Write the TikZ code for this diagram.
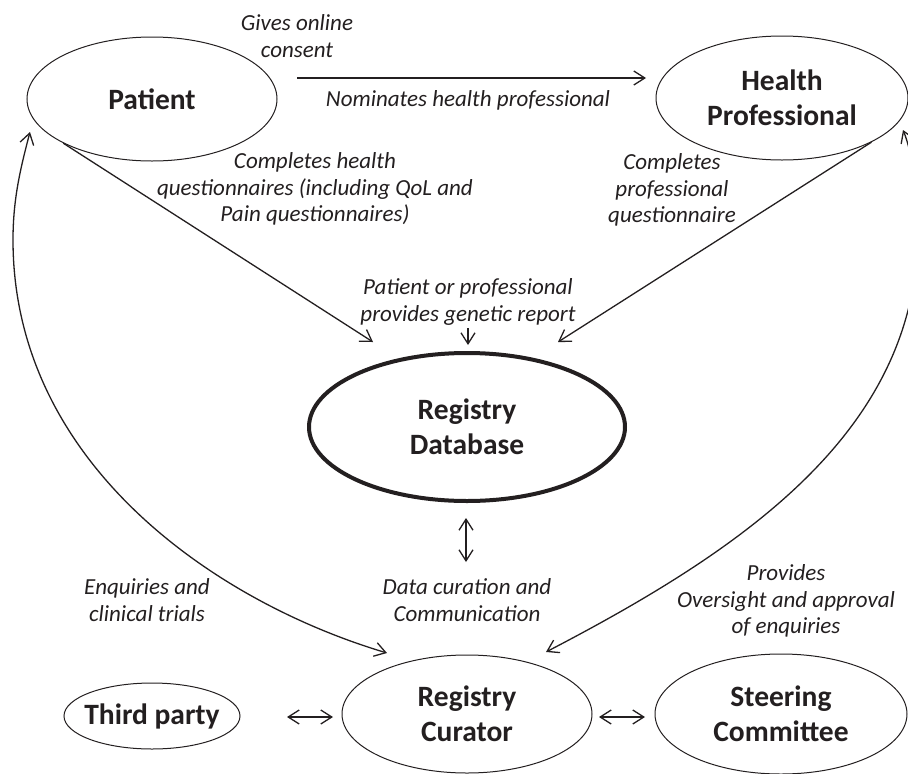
\documentclass[tikz,border=0pt]{standalone}
\usepackage{fontspec}
\setmainfont{Carlito}
\usetikzlibrary{shapes.geometric,arrows.meta}
\definecolor{ink}{HTML}{231F20}
\begin{document}
\begin{tikzpicture}[x=1pt,y=-1pt,
  ent/.style={ellipse, draw=ink, line width=1pt, inner sep=0pt, text=ink,
    font=\fontsize{29.5}{35}\selectfont\bfseries, align=center},
  lab/.style={text=ink, font=\fontsize{23}{26.5}\selectfont\itshape, align=center, inner sep=0pt},
  arr/.style={draw=ink, line width=1.3pt, -{Straight Barb[length=11pt,width=14pt]}},
  darr/.style={draw=ink, line width=1.3pt, {Straight Barb[length=11pt,width=14pt]}-{Straight Barb[length=11pt,width=14pt]}}]
\useasboundingbox (0,0) rectangle (908,774);
% entities
\node[ent, minimum width=250pt, minimum height=124pt] (pat) at (152,99) {Patient};
\node[ent, minimum width=252pt, minimum height=124pt] (hp) at (782,98) {Health\\Professional};
\node[ent, line width=4pt, minimum width=316pt, minimum height=148pt] (db) at (467,427) {Registry\\Database};
\node[ent, minimum width=250pt, minimum height=118pt] (cur) at (467,714) {Registry\\Curator};
\node[ent, minimum width=252pt, minimum height=120pt] (st) at (781,714) {Steering\\Committee};
\node[ent, minimum width=176pt, minimum height=66pt] (tp) at (152,716) {\makebox[0pt]{Third party}};
% labels
\node[lab] (l1) at (297,36) {Gives online\\consent};
\node[lab] (l2) at (468,100) {Nominates health professional};
\node[lab] (l3) at (315,189) {Completes health\\questionnaires (including QoL and\\Pain questionnaires)};
\node[lab] (l4) at (672,190) {Completes\\professional\\questionnaire};
\node[lab] (l5) at (468,302) {Patient or professional\\provides genetic report};
\node[lab] (l6) at (147,600) {Enquiries and\\clinical trials};
\node[lab] (l7) at (467,600) {Data curation and\\Communication};
\node[lab] (l8) at (786,601) {Provides\\Oversight and approval\\of enquiries};
% connector ends
\coordinate (c1) at (297,78); \coordinate (c2) at (646,78);
\coordinate (pe) at (373,342); \coordinate (he) at (558,342);
\coordinate (g1) at (468,328); \coordinate (g2) at (468,345);
\coordinate (d1) at (466,518); \coordinate (d2) at (466,562);
\coordinate (t1) at (287,717); \coordinate (t2) at (333,717);
\coordinate (s1) at (599,717); \coordinate (s2) at (645,717);
\coordinate (lp) at (30,132); \coordinate (lc) at (387,653);
\coordinate (rc) at (546,652); \coordinate (rh) at (903,130);
% connectors
\draw[arr] (c1) -- (c2);
\draw[arr] (pat.south west) -- (pe);
\draw[arr] (hp.south east) -- (he);
\draw[arr] (g1) -- (g2);
\draw[darr] (d1) -- (d2);
\draw[darr] (t1) -- (t2);
\draw[darr] (s1) -- (s2);
\draw[darr] (lp) .. controls (20,170) and (13,200) .. (13,240) .. controls (13,460) and (210,600) .. (lc);
\draw[darr] (rc) .. controls (746,548) and (918,430) .. (918,230) .. controls (918,190) and (912,152) .. (rh);
\end{tikzpicture}
\end{document}
